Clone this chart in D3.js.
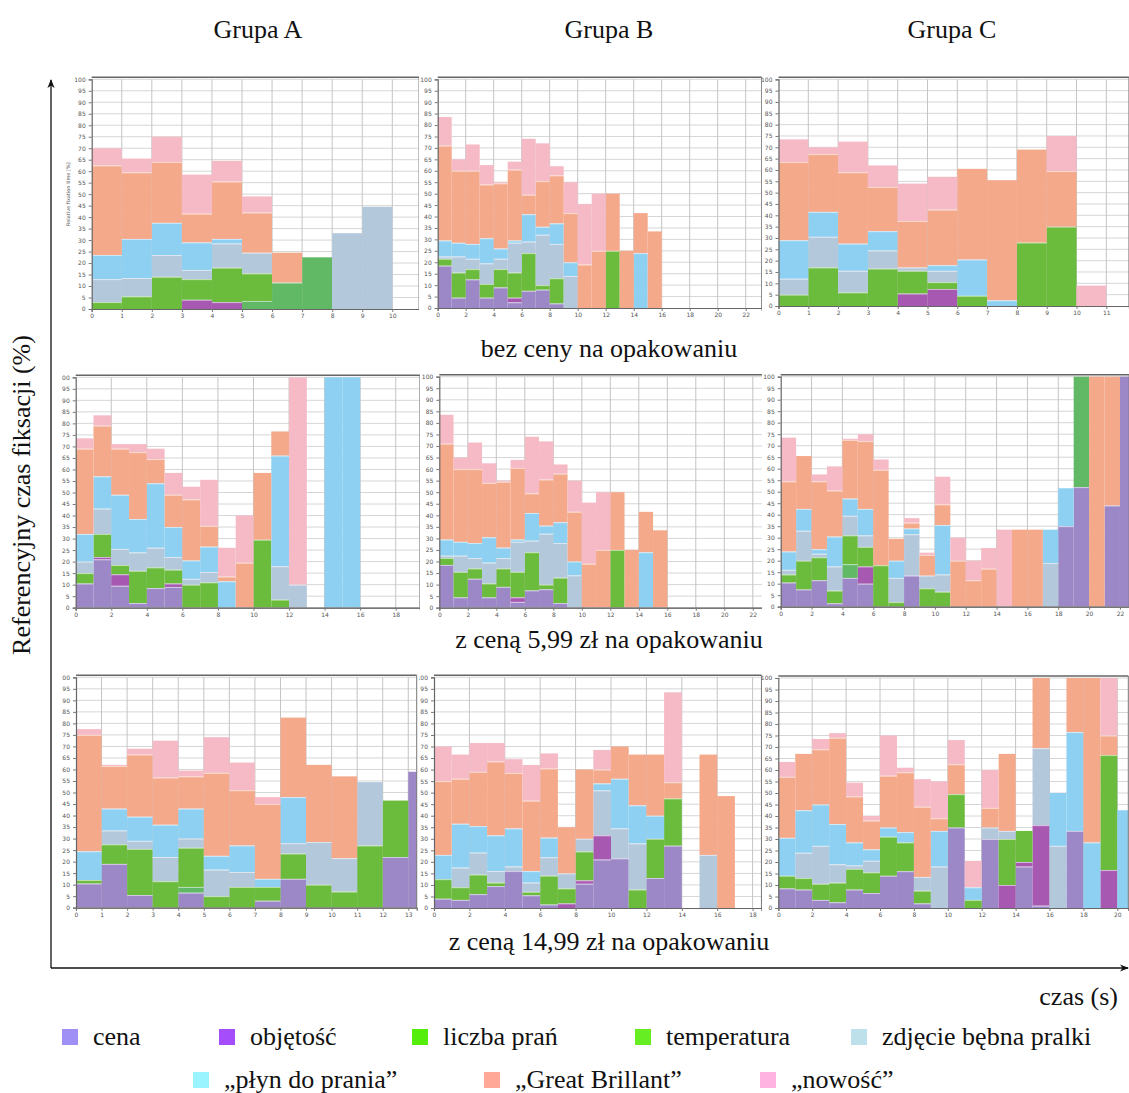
<!DOCTYPE html>
<html>
<head>
<meta charset="utf-8">
<title>Referencyjny czas fiksacji</title>
<script src="https://d3js.org/d3.v7.min.js"></script>
<style>
  body { margin: 0; background: #fff; }
</style>
</head>
<body>
<script>
// stacking order, bottom to top
const keys = ['cena', 'objetosc', 'temperatura', 'liczba', 'zdjecie', 'plyn', 'great', 'nowosc'];
const barColors = ['#9c87c7', '#a759b1', '#62b965', '#6bbb3d', '#b4c8dc', '#8ed0f2', '#f5a98b', '#f6bac6'];

// legend (order as printed)
const legendLabels = ['cena', 'objętość', 'liczba prań', 'temperatura', 'zdjęcie bębna pralki',
                      '„płyn do prania”', '„Great Brillant”', '„nowość”'];
const legendColors = ['#9f90f5', '#a64dfb', '#55ee0a', '#66ee22', '#bde0ea', '#9af4ff', '#ffa898', '#ffb3e0'];

const groupNames = ['Grupa A', 'Grupa B', 'Grupa C'];
const rowNames = ['bez ceny na opakowaniu', 'z ceną 5,99 zł na opakowaniu', 'z ceną 14,99 zł na opakowaniu'];

// each panel: one row per key (segment heights in %), one column per 1 s bin
const panelA1 = [
  [0, 0, 0, 0, 0, 0, 0, 0, 0, 0],
  [0, 0, 0, 4, 3, 0, 0, 0, 0, 0],
  [0, 0, 0, 0, 0, 3.5, 11.5, 22.5, 0, 0],
  [3, 5.5, 14, 9, 15, 12, 0, 0, 0, 0],
  [10, 8, 9.5, 4, 10.5, 9, 0, 0, 33, 44.5],
  [10.5, 17, 14, 12, 2, 0, 0, 0, 0, 0],
  [39, 29, 26.5, 12.5, 25, 17.5, 13, 0, 0, 0],
  [7.5, 6, 11, 17, 9, 7, 0, 0, 0, 0]
];
const panelB1 = [
  [18.5, 4.5, 12.5, 4.5, 9, 2.5, 7.5, 8, 2, 0, 0, 0, 0, 0, 0, 0],
  [0, 0, 0, 0, 0, 2, 0, 0, 0, 0, 0, 0, 0, 0, 0, 0],
  [0, 0, 0, 0, 0, 0, 0, 0, 0, 0, 0, 0, 0, 0, 0, 0],
  [3, 11, 4.5, 6, 8, 11, 16.5, 2, 11, 0, 0, 0, 25, 0, 0, 0],
  [1, 7, 4.5, 9, 4.5, 13, 5, 22, 15, 14, 0, 0, 0, 0, 0, 0],
  [7, 6, 6.5, 11, 4.5, 1, 12, 3.5, 9, 6, 0, 0, 0, 0, 24, 0],
  [41.5, 31.5, 32, 23.5, 28.5, 31, 8.5, 20, 21, 21.5, 19, 25, 25, 25, 17.5, 33.5],
  [12.5, 5, 11.5, 8.5, 0.5, 3.5, 24.5, 16.5, 4, 13.5, 26.5, 25, 0, 0, 0, 0]
];
const panelC1 = [
  [0, 0, 0, 0, 0, 0, 0, 0, 0, 0, 0],
  [0, 0, 0, 0, 5.5, 7.5, 0, 0, 0, 0, 0],
  [0, 0, 0, 0, 0, 0, 0, 0, 0, 0, 0],
  [5, 17, 6, 16.5, 10, 3, 4.5, 0, 28, 35, 0],
  [7, 13.5, 9.5, 8, 1.5, 5, 0, 0, 0, 0, 0],
  [17, 11, 12, 8.5, 0, 2.5, 16, 2.5, 0, 0, 0],
  [34.5, 25.5, 31.5, 19.5, 20.5, 24.5, 40, 53, 41, 24.5, 0],
  [10, 3, 13.5, 9.5, 16.5, 14.5, 0, 0, 0, 15.5, 9]
];
const panelA2 = [
  [10.5, 21, 9.5, 2, 8.5, 9, 0, 0, 0, 0, 0, 0, 0, 0, 0, 0],
  [0, 1, 5, 0, 0, 1.5, 0, 0, 0, 0, 0, 0, 0, 0, 0, 0],
  [0, 0, 0, 0, 0, 0, 0, 0, 0, 0, 0, 0, 0, 0, 0, 0],
  [4.5, 10, 4, 14, 9, 6, 10, 11, 0, 0, 29.5, 3.5, 0, 0, 0, 0],
  [5, 11, 7, 8, 8.5, 5.5, 2.5, 4.5, 0, 0, 0, 14.5, 10, 0, 0, 0],
  [12, 14, 23.5, 14.5, 28, 13, 8, 11, 11.5, 0, 0, 48, 0, 0, 100, 100],
  [37, 22, 20, 29, 10.5, 14, 26.5, 9, 2, 19.5, 29, 10.5, 0, 0, 0, 0],
  [4.5, 4.5, 2, 3.5, 4.5, 9.5, 5.5, 20, 12.5, 20.5, 0, 0, 90, 0, 0, 0]
];
// the middle chart of row 2 is the same recording as row 1
const panelB2 = panelB1;
const panelC2 = [
  [10.5, 7.5, 11.5, 1.5, 12.5, 10, 0, 0, 13.5, 0, 0, 0, 0, 0, 0, 0, 0, 0, 35, 52, 0, 44, 100],
  [0, 0, 0, 0, 0, 7.5, 0, 0, 0, 0, 0, 0, 0, 0, 0, 0, 0, 0, 0, 0, 0, 0, 0],
  [0, 0, 0, 0, 6, 0, 0, 0, 0, 0, 0, 0, 0, 0, 0, 0, 0, 0, 0, 48, 0, 0, 0],
  [3.5, 12.5, 10, 5.5, 12.5, 8.5, 18, 2, 0, 8, 6.5, 0, 0, 0, 0, 0, 0, 0, 0, 0, 0, 0, 0],
  [2, 13, 1.5, 10.5, 8.5, 5, 0, 10.5, 18, 5.5, 7.5, 0, 0, 0, 0, 0, 0, 19, 0, 0, 0, 0, 0],
  [8, 9.5, 2, 13, 7.5, 11.5, 0, 7.5, 2.5, 0, 21.5, 0, 0, 0, 0, 0, 0, 14.5, 16.5, 0, 0, 0, 0],
  [30.5, 23, 29.5, 20, 25.5, 29.5, 41.5, 9.5, 2.5, 9, 9, 20, 11.5, 16.5, 0, 33.5, 33.5, 0, 0, 0, 100, 56, 0],
  [19, 0, 3, 10.5, 0.5, 3, 4.5, 0, 2, 1, 12, 10, 8.5, 9, 33.5, 0, 0, 0, 0, 0, 0, 0, 0]
];
const panelA3 = [
  [10.5, 19, 5.5, 0, 6.5, 0, 0, 3, 12.5, 0, 0, 0, 22, 59],
  [0, 0, 0, 0, 0, 0, 0, 0, 0, 0, 0, 0, 0, 0],
  [0, 0, 0, 0, 2.5, 0, 0, 0, 0, 0, 0, 0, 0, 0],
  [1.5, 8.5, 20, 11.5, 17, 5, 9, 6, 11, 10, 7, 27, 24.5, 0],
  [0, 6, 3.5, 10.5, 4, 11.5, 6.5, 0, 4.5, 18.5, 14.5, 27.5, 0, 0],
  [12.5, 9.5, 10.5, 14, 13, 6, 11.5, 3.5, 20, 0, 0, 0, 0, 0],
  [50.5, 18.5, 27, 20.5, 14, 36, 24, 32.5, 34.5, 33.5, 35.5, 0, 0, 0],
  [2.5, 0.5, 2.5, 16, 2.5, 15.5, 12, 3, 0, 0, 0, 0, 0, 0]
];
const panelB3 = [
  [4, 3.5, 6, 9.5, 16, 5.5, 1.5, 0, 10.5, 21, 21.5, 0, 13, 27, 0, 0, 0],
  [0, 0, 0, 0, 0, 0, 0, 2, 1.5, 10.5, 0, 0, 0, 0, 0, 0, 0],
  [0, 0, 0, 0, 0, 0, 0, 0, 0, 0, 0, 0, 0, 0, 0, 0, 0],
  [8.5, 5.5, 8.5, 1.5, 0, 1.5, 12.5, 6.5, 12.5, 0, 0, 8, 17, 20.5, 0, 0, 0],
  [0, 8.5, 9.5, 5, 2, 4, 8, 6.5, 5.5, 19.5, 13, 20, 0, 0, 0, 23, 0],
  [10.5, 19, 11.5, 15.5, 16.5, 5, 8.5, 0, 0, 3, 21.5, 16.5, 10, 0, 0, 0, 0],
  [32, 19.5, 23.5, 32, 24, 30.5, 30, 20, 30, 6, 14, 22, 26.5, 7, 0, 43.5, 48.5],
  [15, 10.5, 12.5, 8, 6, 15.5, 6.5, 0, 0, 8.5, 0, 0, 0, 39, 0, 0, 0]
];
const panelC3 = [
  [8.5, 8, 3.5, 2.5, 8, 6.5, 14, 16, 2, 0, 35, 0, 30, 0, 18, 1, 0, 33.5, 0, 0, 0],
  [0, 0, 0, 0, 0, 0, 0, 0, 0, 0, 0, 0, 0, 10, 2, 35, 0, 0, 0, 16.5, 0],
  [0, 0, 0, 0, 0, 0, 0, 0, 0, 0, 0, 0, 0, 0, 0, 0, 0, 0, 0, 0, 0],
  [5.5, 5, 7, 8.5, 9, 9, 17, 12.5, 5.5, 0, 14.5, 3.5, 0, 20, 13.5, 0, 0, 0, 0, 50, 0],
  [0, 11, 16.5, 8, 1.5, 5, 0, 0, 6, 18, 0, 0, 5, 3.5, 0, 33.5, 27, 0, 0, 0, 0],
  [16.5, 18.5, 18, 17.5, 10, 5, 4, 4.5, 0, 15.5, 0, 5.5, 0, 0, 0, 0, 23, 43, 28.5, 0, 42.5],
  [26.5, 24.5, 24, 37.5, 20, 12.5, 22.5, 26, 30.5, 5.5, 13, 0, 8.5, 33.5, 0, 30.5, 0, 23.5, 71.5, 8.5, 0],
  [6.5, 0, 4.5, 2, 6, 2, 17.5, 2, 12, 16, 10.5, 11.5, 16.5, 0, 0, 0, 0, 0, 0, 25, 0]
];

// geometry of each cropped screenshot (pixels)
const panels = [
  { rows: panelA1, clip: [62, 70, 419, 322], ax: 91.7, k: 30.06, xmax: 10.89, y0: 309, y100: 79.3, step: 1, title: true },
  { rows: panelB1, clip: [419, 70, 762, 322], ax: 437.7, k: 14.0, xmax: 23.14, y0: 308, y100: 79.3, step: 2 },
  { rows: panelC1, clip: [762, 70, 1129, 322], ax: 778.5, k: 29.8, xmax: 11.76, y0: 306, y100: 79.3, step: 1 },
  { rows: panelA2, clip: [62, 370, 420, 622], ax: 75.7, k: 17.78, xmax: 19.36, y0: 607.7, y100: 377.3, step: 2 },
  { rows: panelB2, clip: [420, 370, 762, 622], ax: 439.3, k: 14.25, xmax: 22.8, y0: 607.7, y100: 376.7, step: 2 },
  { rows: panelC2, clip: [762, 370, 1129, 622], ax: 780.7, k: 15.42, xmax: 22.6, y0: 606.7, y100: 376.7, step: 2 },
  { rows: panelA3, clip: [62, 672, 419, 922], ax: 76, k: 25.56, xmax: 13.33, y0: 907.7, y100: 677.3, step: 1 },
  { rows: panelB3, clip: [419, 672, 762, 922], ax: 434, k: 17.7, xmax: 18.5, y0: 908, y100: 677.3, step: 2 },
  { rows: panelC3, clip: [762, 672, 1129, 922], ax: 778.3, k: 16.95, xmax: 20.65, y0: 908, y100: 678, step: 2 }
];

const width = 1129;
const height = 1093;
const serif = "'Liberation Serif', 'DejaVu Serif', serif";

const svg = d3.select('body').append('svg')
  .attr('width', width)
  .attr('height', height)
  .style('display', 'block');

const defs = svg.append('defs');

panels.forEach((p, i) => {
  const [cx0, cy0, cx1, cy1] = p.clip;
  defs.append('clipPath').attr('id', 'pc' + i)
    .append('rect').attr('x', cx0).attr('y', cy0).attr('width', cx1 - cx0).attr('height', cy1 - cy0);

  const x = d3.scaleLinear().domain([0, p.xmax]).range([p.ax, p.ax + p.k * p.xmax]);
  const y = d3.scaleLinear().domain([0, 100]).range([p.y0, p.y100]);
  const xr = x.range()[1];

  defs.append('clipPath').attr('id', 'pp' + i)
    .append('rect').attr('x', p.ax).attr('y', p.y100 - 3).attr('width', xr - p.ax).attr('height', p.y0 - p.y100 + 3);

  const g = svg.append('g').attr('clip-path', `url(#pc${i})`);
  g.append('rect').attr('x', cx0).attr('y', cy0).attr('width', cx1 - cx0).attr('height', cy1 - cy0).attr('fill', '#fff');

  const plot = g.append('g').attr('clip-path', `url(#pp${i})`);

  // grid
  plot.selectAll('.hg').data(d3.range(5, 101, 5)).join('line')
    .attr('x1', p.ax).attr('x2', xr)
    .attr('y1', d => y(d)).attr('y2', d => y(d))
    .attr('stroke', '#d6d6d6').attr('stroke-width', 1);
  const xticks = d3.range(0, Math.ceil(p.xmax) + 1, p.step);
  plot.selectAll('.vg').data(xticks.filter(d => d > 0)).join('line')
    .attr('x1', d => x(d)).attr('x2', d => x(d))
    .attr('y1', p.y100).attr('y2', p.y0)
    .attr('stroke', '#c4c4c4').attr('stroke-width', 1);

  // stacked bins
  const nBins = p.rows[0].length;
  const bins = d3.range(nBins).map(b => {
    const o = { bin: b };
    keys.forEach((k, j) => { o[k] = p.rows[j][b]; });
    return o;
  });
  const series = d3.stack().keys(keys)(bins);

  series.forEach((s, j) => {
    const segs = s.filter(d => d[1] - d[0] > 0);
    plot.selectAll(null).data(segs).join('rect')
      .attr('x', d => x(d.data.bin))
      .attr('width', d => x(d.data.bin + 1) - x(d.data.bin))
      .attr('y', d => y(d[1]))
      .attr('height', d => y(d[0]) - y(d[1]))
      .attr('fill', barColors[j]);
    plot.selectAll(null).data(segs.filter(d => d[0] > 0)).join('line')
      .attr('x1', d => x(d.data.bin)).attr('x2', d => x(d.data.bin + 1))
      .attr('y1', d => y(d[0]) + 0.5).attr('y2', d => y(d[0]) + 0.5)
      .attr('stroke', 'rgba(255,255,255,0.55)').attr('stroke-width', 1);
  });

  // frame
  g.append('line').attr('x1', p.ax).attr('x2', xr).attr('y1', p.y100 - 2).attr('y2', p.y100 - 2)
    .attr('stroke', '#666').attr('stroke-width', 1.5);
  g.append('line').attr('x1', p.ax).attr('x2', xr).attr('y1', p.y0 + 0.5).attr('y2', p.y0 + 0.5)
    .attr('stroke', '#888').attr('stroke-width', 1);
  g.append('line').attr('x1', xr).attr('x2', xr).attr('y1', p.y100 - 2).attr('y2', p.y0)
    .attr('stroke', '#777').attr('stroke-width', 1);

  // axes (only labels that fit inside the cropped screenshot)
  const yAxis = d3.axisLeft(y).tickValues(d3.range(0, 101, 5)).tickSize(3).tickPadding(3);
  const ya = g.append('g').attr('transform', `translate(${p.ax},0)`).call(yAxis);
  const labelTicks = xticks.filter(d => x(d) + 6 < cx1);
  const xAxis = d3.axisBottom(x).tickValues(labelTicks).tickSize(3).tickPadding(2).tickFormat(d3.format('d'));
  const xa = g.append('g').attr('transform', `translate(0,${p.y0})`).call(xAxis);
  [ya, xa].forEach(a => {
    a.select('.domain').attr('stroke', '#666').attr('stroke-width', 1.2);
    a.selectAll('.tick line').attr('stroke', '#777');
    a.selectAll('.tick text').attr('fill', '#555')
      .style('font-family', "'DejaVu Sans', sans-serif").style('font-size', '6px');
  });

  if (p.title) {
    g.append('text')
      .attr('transform', `translate(69.5,${(p.y0 + p.y100) / 2}) rotate(-90)`)
      .attr('text-anchor', 'middle')
      .attr('fill', '#555')
      .style('font-family', "'DejaVu Sans', sans-serif").style('font-size', '5px')
      .text('Relative fixation time [%]');
  }
});

// column and row captions
const groupX = [258, 609, 952];
svg.selectAll('.grp').data(groupNames).join('text')
  .attr('x', (d, i) => groupX[i]).attr('y', 38)
  .attr('text-anchor', 'middle')
  .style('font-family', serif).style('font-size', '26px')
  .attr('fill', '#111')
  .text(d => d);

const rowY = [357, 648, 950];
svg.selectAll('.rowname').data(rowNames).join('text')
  .attr('x', 609).attr('y', (d, i) => rowY[i])
  .attr('text-anchor', 'middle')
  .style('font-family', serif).style('font-size', '26px')
  .attr('fill', '#111')
  .text(d => d);

// outer axes with arrows
defs.append('marker').attr('id', 'arrow')
  .attr('viewBox', '0 0 10 10').attr('refX', 9).attr('refY', 5)
  .attr('markerWidth', 9).attr('markerHeight', 9).attr('orient', 'auto')
  .attr('markerUnits', 'userSpaceOnUse')
  .append('path').attr('d', 'M0,1 L10,5 L0,9 L3,5 Z').attr('fill', '#111');

svg.append('line').attr('x1', 51).attr('y1', 968).attr('x2', 51).attr('y2', 80)
  .attr('stroke', '#111').attr('stroke-width', 1.3).attr('marker-end', 'url(#arrow)');
svg.append('line').attr('x1', 51).attr('y1', 968).attr('x2', 1128).attr('y2', 968)
  .attr('stroke', '#111').attr('stroke-width', 1.3).attr('marker-end', 'url(#arrow)');

svg.append('text')
  .attr('transform', 'translate(30,495) rotate(-90)')
  .attr('text-anchor', 'middle')
  .style('font-family', serif).style('font-size', '26px')
  .attr('fill', '#111')
  .text('Referencyjny czas fiksacji (%)');

svg.append('text')
  .attr('x', 1118).attr('y', 1005)
  .attr('text-anchor', 'end')
  .style('font-family', serif).style('font-size', '26px')
  .attr('fill', '#111')
  .text('czas (s)');

// legend
const legendPos = [
  [62, 1037], [219, 1037], [412, 1037], [635, 1037], [851, 1037],
  [193, 1080], [484, 1080], [760, 1080]
];
const lg = svg.selectAll('.lg').data(legendLabels).join('g')
  .attr('transform', (d, i) => `translate(${legendPos[i][0]},${legendPos[i][1]})`);
lg.append('rect').attr('x', 0).attr('y', -8).attr('width', 16).attr('height', 16)
  .attr('fill', (d, i) => legendColors[i]);
lg.append('text').attr('x', 31).attr('y', 8)
  .style('font-family', serif).style('font-size', '26px')
  .attr('fill', '#111')
  .text(d => d);
</script>
</body>
</html>
